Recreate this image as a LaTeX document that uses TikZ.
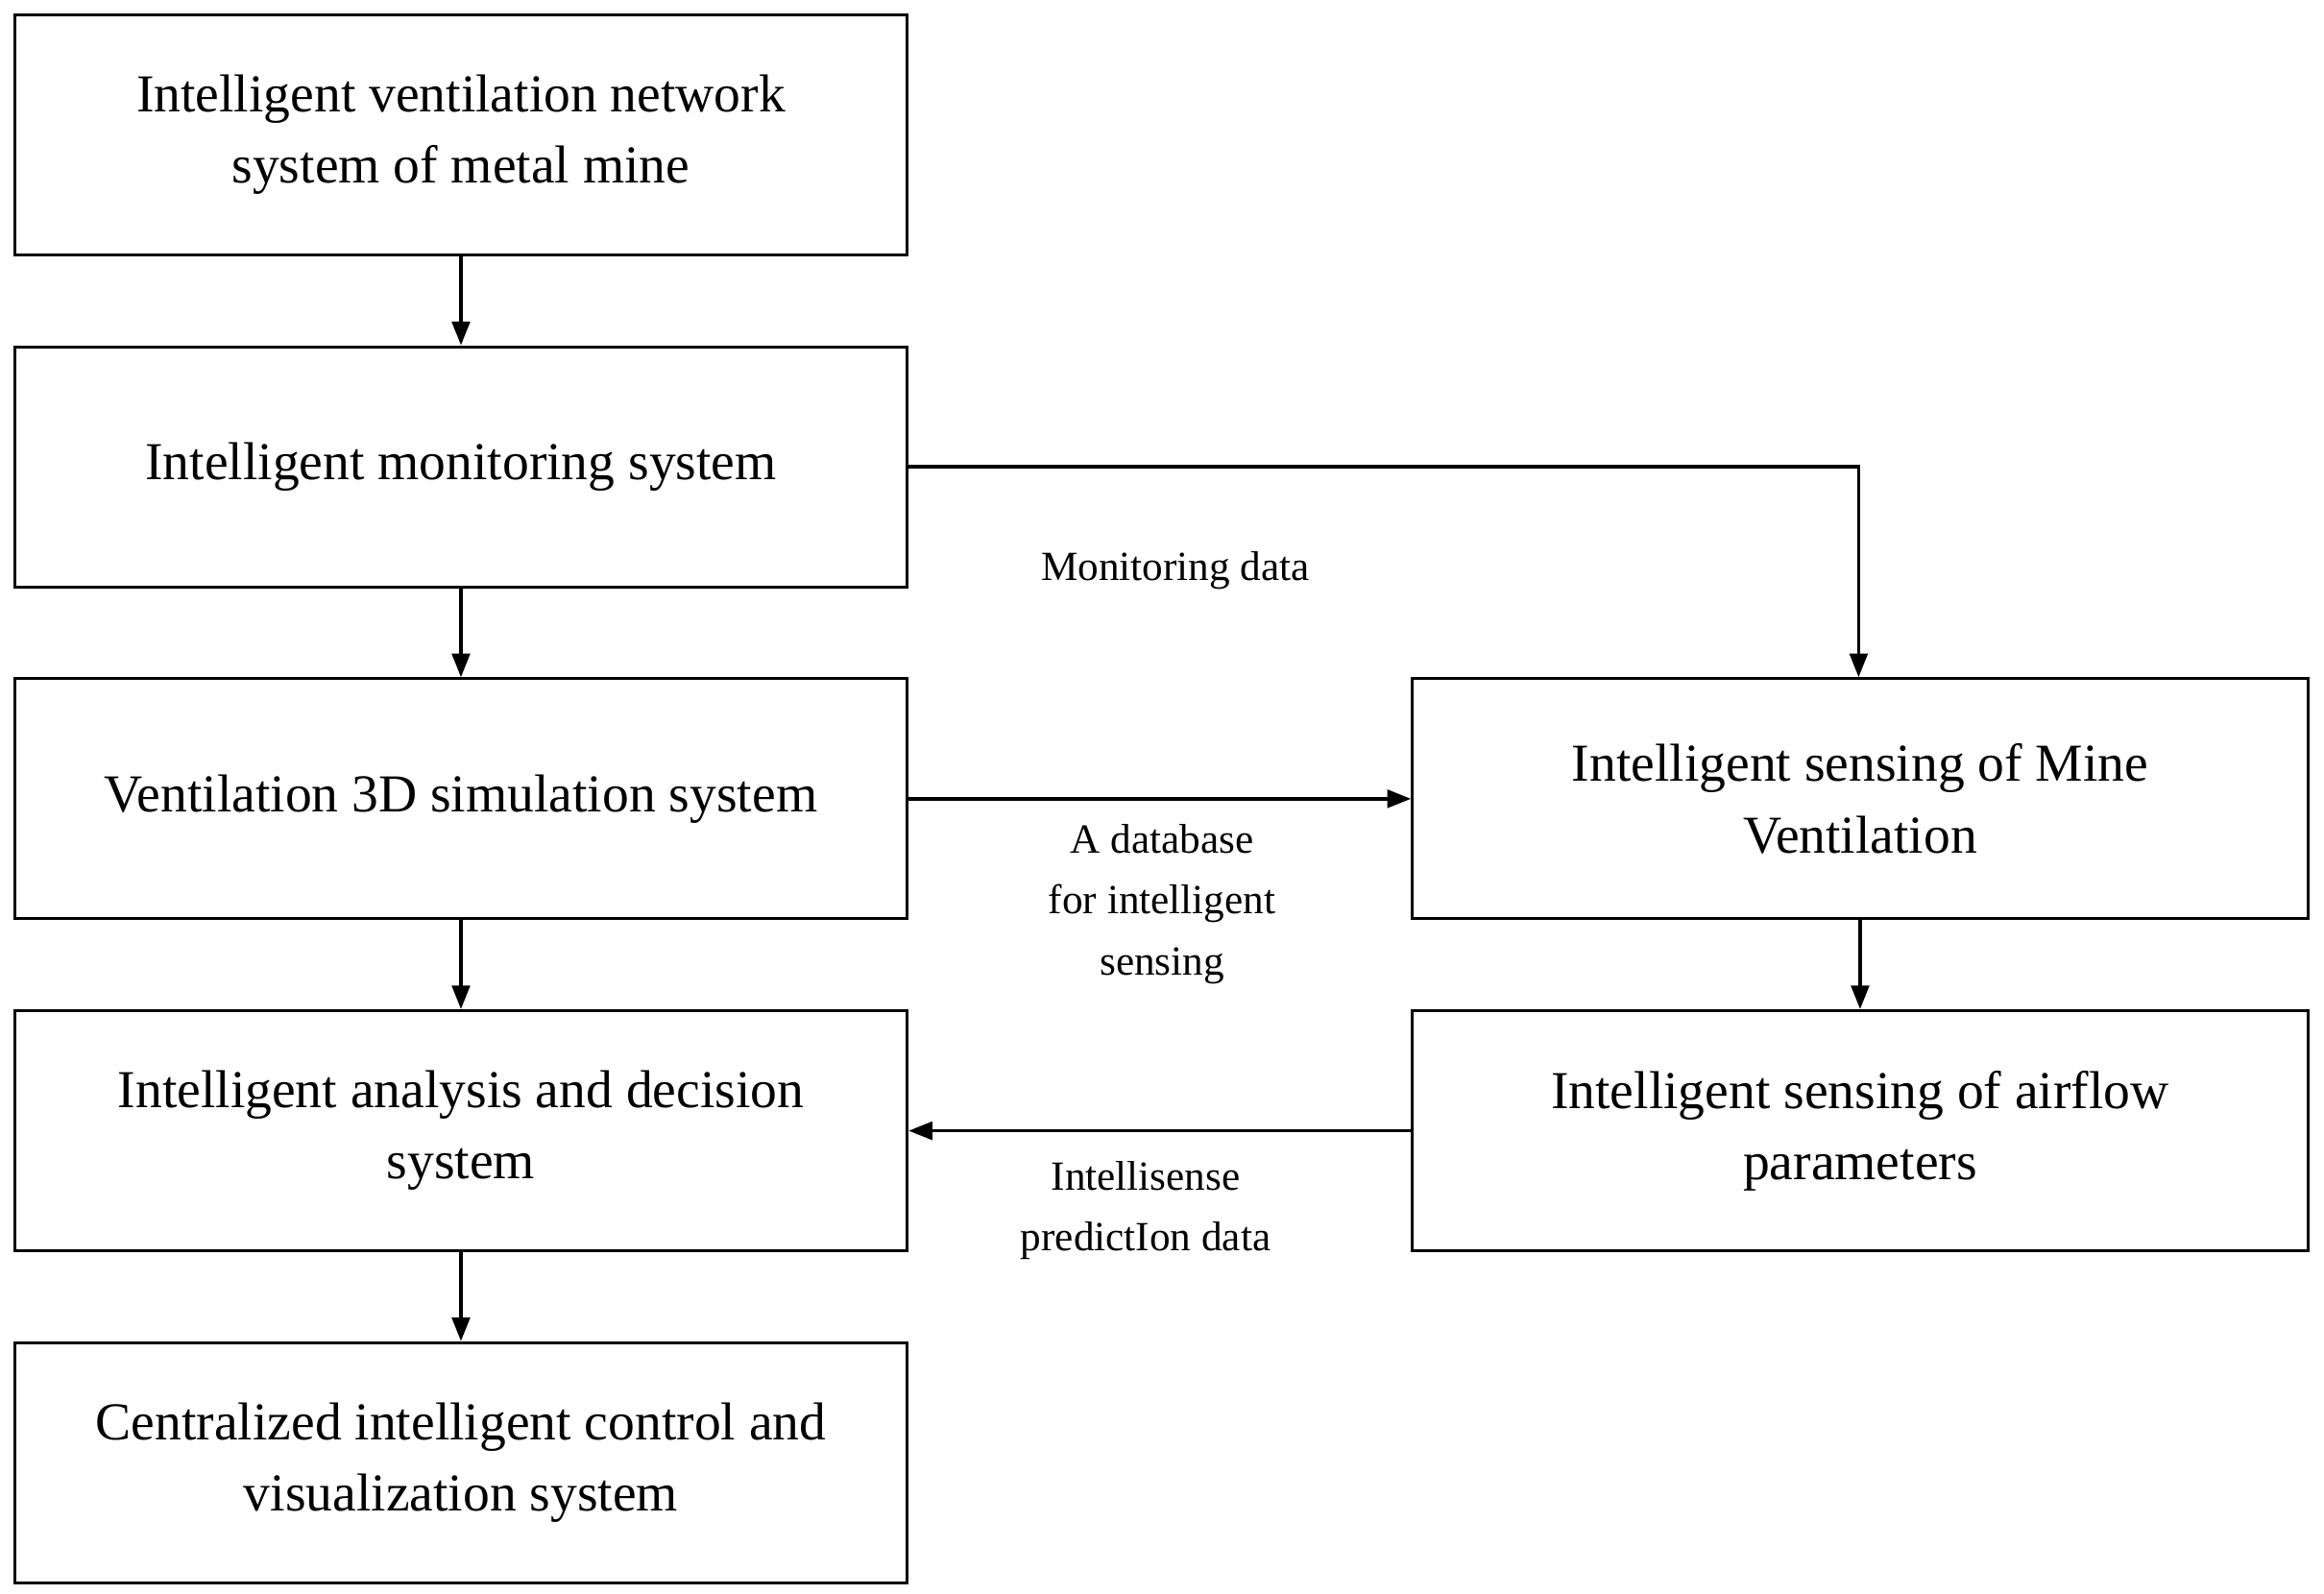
\documentclass[tikz,border=0pt]{standalone}
\usepackage{fontspec}
\setmainfont{Liberation Serif}
\usetikzlibrary{arrows.meta}
\begin{document}
\begin{tikzpicture}[x=1pt,y=-1pt,
  box/.style={draw,line width=2pt,minimum width=602pt,minimum height=162pt,align=center,font=\fontsize{36}{48}\selectfont,inner sep=0pt},
  lab/.style={align=center,font=\fontsize{28}{41}\selectfont},
  arr/.style={line width=2.4pt,-{Triangle[length=16pt,width=12pt]}}]
\useasboundingbox (0,0) rectangle (1568,1075);
\node[box] (a) at (311,91) {Intelligent ventilation network\\system of metal mine};
\node[box] (b) at (311,315) {Intelligent monitoring system};
\node[box] (c) at (311,539) {Ventilation 3D simulation system};
\node[box] (d) at (311,763) {Intelligent analysis and decision\\system};
\node[box] (e) at (311,987) {Centralized intelligent control and\\visualization system};
\node[box,minimum width=604pt] (f) at (1255,539) {Intelligent sensing of Mine\\Ventilation};
\node[box,minimum width=604pt] (g) at (1255,763) {Intelligent sensing of airflow\\parameters};
\draw[arr] (a) -- (b);
\draw[arr] (b) -- (c);
\draw[arr] (c) -- (d);
\draw[arr] (d) -- (e);
\draw[arr] (f) -- (g);
\draw[arr] (b.east) -- (1254,315) -- (f.north -| 1254,0);
\draw[arr] (c.east) -- (f.west);
\draw[arr] (g.west) -- (d.east);
\node[lab] (l1) at (793,385) {Monitoring data};
\node[lab] (l2) at (784,610) {A database\\for intelligent\\sensing};
\node[lab] (l3) at (773,817) {Intellisense\\predictIon data};
\end{tikzpicture}
\end{document}
